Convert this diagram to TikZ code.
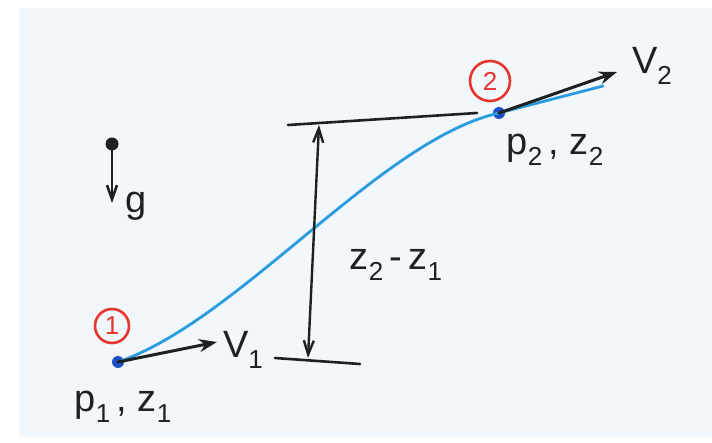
\documentclass[tikz,border=0pt]{standalone}
\usepackage{fontspec}
\setmainfont{Liberation Sans}
\usetikzlibrary{arrows.meta,positioning}
\definecolor{ink}{HTML}{1E2022}
\definecolor{flow}{HTML}{2A9BDF}
\definecolor{pointc}{HTML}{1D4FC4}
\definecolor{marker}{HTML}{E5352F}
\definecolor{paper}{HTML}{F1F7FB}
\tikzset{
  arr/.style={draw=ink, line width=3pt, line cap=round, -{Stealth[length=18pt, width=13pt]}},
  dim/.style={draw=ink, line width=2.4pt, line cap=round, {Straight Barb[length=14pt, width=10pt]}-{Straight Barb[length=14pt, width=10pt]}},
  datum/.style={draw=ink, line width=2.6pt, line cap=round},
  flow/.style={draw=flow, line width=2.8pt, line cap=round},
  pt/.style={circle, fill=pointc, inner sep=0pt, minimum size=12pt},
  num/.style={circle, draw=marker, text=marker, line width=2.6pt, inner sep=0pt, minimum size=34pt, font=\fontsize{26}{26}\selectfont},
  lbl/.style={text=ink, inner sep=0pt, font=\fontsize{38}{38}\selectfont},
}
\newcommand{\lowidx}[1]{\raisebox{-0.3em}{\fontsize{26}{26}\selectfont #1}}

\begin{document}
\begin{tikzpicture}[x=1pt, y=-1pt]
    \useasboundingbox[fill=white] (0,0) rectangle (712,443);
    \fill[paper] (19,8) rectangle (712,437);
    % stream line and its two points
    \coordinate (flowend) at (603,86);
    \node[pt] (p1) at (118,362) {};
    \node[pt] (p2) at (499,113) {};
    \draw[flow] (p1.center) .. controls (240,320) and (380,140) .. (p2.center) -- (flowend);
    \node[num] (n1) at (112,326) {1};
    \node[num, minimum size=40pt] (n2) at (490,81) {2};
    % velocities
    \coordinate (v1tip) at (217,342);
    \coordinate (v2tip) at (617,72);
    \draw[arr] (p1.center) -- (v1tip);
    \draw[arr] (p2.center) -- (v2tip);
    \node[lbl] (v1) at (243,350) {V\lowidx{1}};
    \node[lbl] (v2) at (652,66) {V\lowidx{2}};
    \node[lbl] (s1) at (123,407) {p\lowidx{1}\,, z\lowidx{1}};
    \node[lbl] (s2) at (555,150) {p\lowidx{2}\,, z\lowidx{2}};
    % height difference
    \coordinate (topL) at (288,125); \coordinate (topR) at (477,113);
    \coordinate (botL) at (275,358); \coordinate (botR) at (360,364);
    \coordinate (dimT) at (319,125); \coordinate (dimB) at (308,358);
    \draw[datum] (topL) -- (topR); \draw[datum] (botL) -- (botR);
    \draw[dim] (dimB) -- (dimT);
    \node[lbl] (dz) at (396,265) {z\lowidx{2}\,-\,z\lowidx{1}};
    % gravity
    \node[pt, fill=ink, minimum size=13pt] (gdot) at (112,144) {};
    \coordinate (gtip) at (112,203);
    \draw[datum, -{Straight Barb[length=14pt, width=10pt]}] (gdot.center) -- (gtip);
    \node[lbl] (g) at (136,206) {g};
  \end{tikzpicture}
\end{document}
